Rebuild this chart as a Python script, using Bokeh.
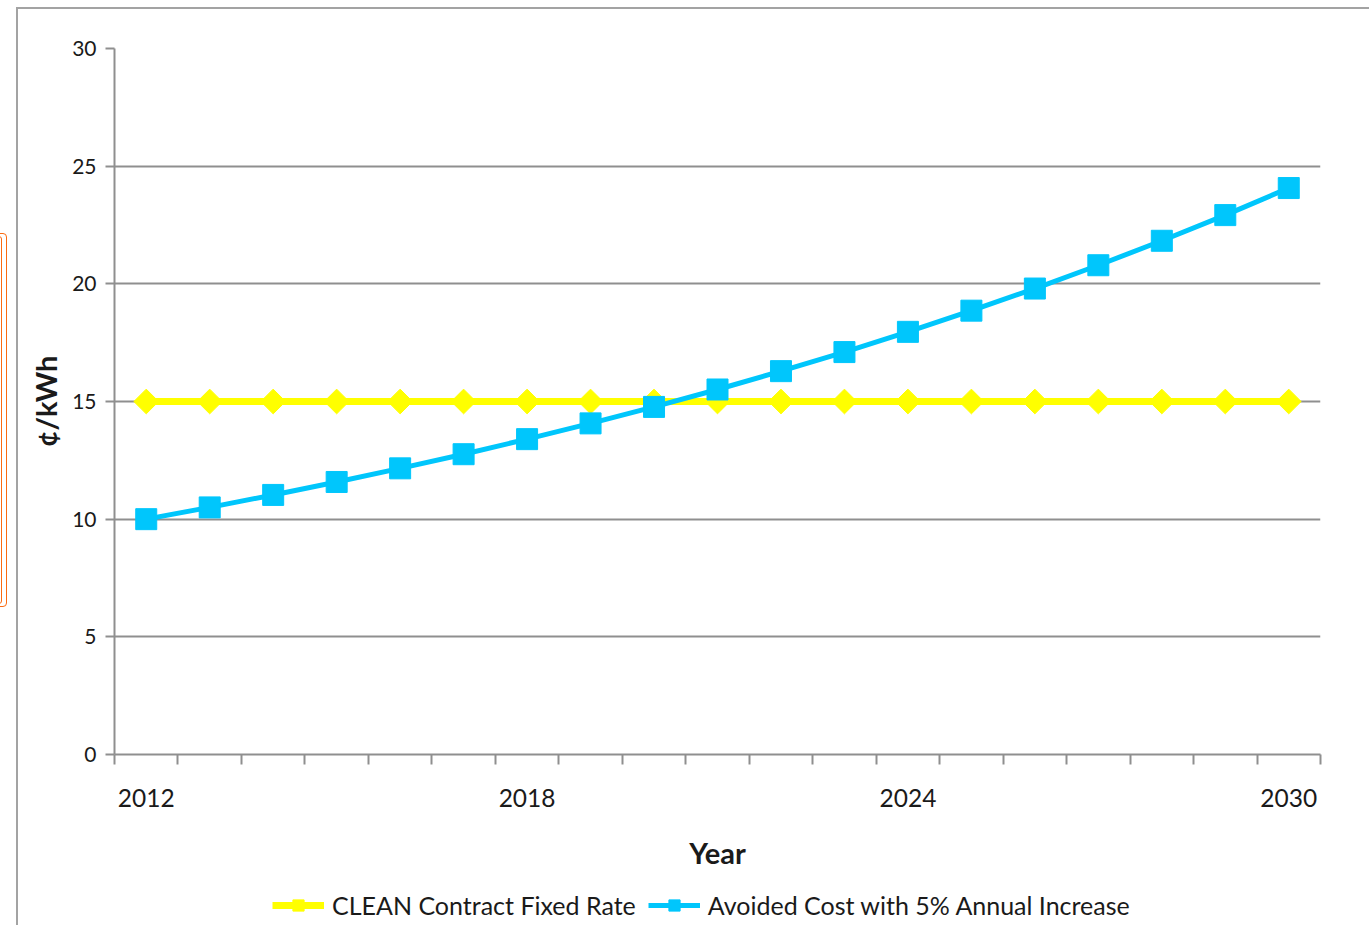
from bokeh.plotting import figure
from bokeh.layouts import row, column
from bokeh.models import Range1d, FixedTicker, Legend, LegendItem, Div
from bokeh.embed import file_html
from bokeh.resources import INLINE

# Contract rate vs. avoided cost, cents per kWh
years = [2012, 2013, 2014, 2015, 2016, 2017, 2018, 2019, 2020, 2021,
         2022, 2023, 2024, 2025, 2026, 2027, 2028, 2029, 2030]
fixed_rate = [15.0, 15.0, 15.0, 15.0, 15.0, 15.0, 15.0, 15.0, 15.0, 15.0,
              15.0, 15.0, 15.0, 15.0, 15.0, 15.0, 15.0, 15.0, 15.0]
avoided_cost = [10.00, 10.50, 11.03, 11.58, 12.16, 12.76, 13.40, 14.07, 14.77, 15.51,
                16.29, 17.10, 17.96, 18.86, 19.80, 20.79, 21.83, 22.92, 24.07]
year_labels = [2012, 2018, 2024, 2030]
y_ticks = [0, 5, 10, 15, 20, 25, 30]
series_names = ["CLEAN Contract Fixed Rate", "Avoided Cost with 5% Annual Increase"]

FONT = "Lato"
GRAY = "#8f8f8f"
EDGE = "2px solid #a3a3a3"
YELLOW = "#ffff00"
BLUE = "#00c6fc"
TEXT = "#1a1a1a"

p = figure(width=1353, height=881, output_backend="svg", toolbar_location=None,
           x_range=Range1d(2011.5, 2030.5), y_range=Range1d(0, 30),
           min_border_left=96, min_border_right=51, min_border_top=39,
           min_border_bottom=136, margin=(7, 0, 0, 8),
           styles={"border-left": EDGE, "border-top": EDGE})
p.outline_line_color = None
p.background_fill_color = "white"
p.border_fill_color = "white"

# horizontal grid only
p.xgrid.grid_line_color = None
p.ygrid.ticker = FixedTicker(ticks=y_ticks)
p.ygrid.grid_line_color = GRAY
p.ygrid.grid_line_width = 2

# x axis: labels centred on years, tick marks between categories
xa = p.xaxis[0]
xa.ticker = FixedTicker(ticks=year_labels,
                        minor_ticks=[y - 0.5 for y in years] + [years[-1] + 0.5])
xa.major_tick_out = 0
xa.major_tick_in = 0
xa.minor_tick_out = 10
xa.minor_tick_in = 0
xa.minor_tick_line_color = GRAY
xa.minor_tick_line_width = 2
xa.axis_line_color = GRAY
xa.axis_line_width = 2
xa.major_label_text_font = FONT
xa.major_label_text_font_size = "24.5px"
xa.major_label_text_color = TEXT
xa.major_label_standoff = 24
xa.axis_label = "Year"
xa.axis_label_text_font = FONT
xa.axis_label_text_font_size = "29px"
xa.axis_label_text_font_style = "bold"
xa.axis_label_text_color = TEXT
xa.axis_label_standoff = 25

ya = p.yaxis[0]
ya.ticker = FixedTicker(ticks=y_ticks)
ya.minor_tick_out = 0
ya.minor_tick_in = 0
ya.major_tick_out = 9
ya.major_tick_in = 0
ya.major_tick_line_color = GRAY
ya.major_tick_line_width = 2
ya.axis_line_color = GRAY
ya.axis_line_width = 2
ya.major_label_text_font = FONT
ya.major_label_text_font_size = "21px"
ya.major_label_text_color = TEXT
ya.major_label_standoff = 9
ya.axis_label = "¢/kWh"
ya.axis_label_text_font = FONT
ya.axis_label_text_font_size = "29px"
ya.axis_label_text_font_style = "bold"
ya.axis_label_text_color = TEXT
ya.axis_label_standoff = 6

line_style = [dict(line_color=YELLOW, line_width=7), dict(line_color=BLUE, line_width=5)]
mark_style = [dict(marker="square", angle=45, angle_units="deg", size=17.5,
                   fill_color=YELLOW, line_color=YELLOW),
              dict(marker="square", size=21, fill_color=BLUE, line_color=BLUE)]
series_values = [fixed_rate, avoided_cost]

# series (fixed rate underneath, avoided cost on top)
for vals, ls, ms in zip(series_values, line_style, mark_style):
    p.line(years, vals, **ls)
    p.scatter(years, vals, **ms)

# legend strip underneath the chart; its renderers carry the same series,
# which fall outside this strip's ranges, so only the legend swatches show
pl = figure(width=1353, height=37, output_backend="svg", toolbar_location=None,
            x_range=Range1d(0, 1), y_range=Range1d(0, 1),
            x_axis_location=None, y_axis_location=None,
            min_border=0, margin=(0, 0, 0, 8), styles={"border-left": EDGE})
pl.outline_line_color = None
pl.grid.visible = False
pl.background_fill_color = "white"
pl.border_fill_color = "white"

items = []
for name, vals, ls, ms in zip(series_names, series_values, line_style, mark_style):
    lr = pl.line(years, vals, **ls)
    mr = pl.scatter(years, vals, **ms)
    items.append(LegendItem(label=name, renderers=[lr, mr]))

legend = Legend(items=items, orientation="horizontal", location=(158, 5))
legend.label_text_font = FONT
legend.label_text_font_size = "25px"
legend.label_text_color = TEXT
legend.glyph_width = 52
legend.glyph_height = 28
legend.label_height = 28
legend.label_standoff = 8
legend.spacing = 12
legend.padding = 0
legend.margin = 0
legend.border_line_color = None
legend.background_fill_alpha = 0
pl.add_layout(legend, "center")

# orange selection frame at the left edge of the page
frame_html = (
    '<div style="margin-top:233px;margin-left:-40px;width:47px;height:374px;'
    'border:1.5px solid #fb6a10;border-radius:4px;box-sizing:border-box;'
    'padding:2px 4px 2px 0;">'
    '<div style="width:100%;height:100%;border:1.5px solid #fb6a10;'
    'border-radius:3px;box-sizing:border-box;"></div></div>'
)
side = Div(text=frame_html, width=8, height=927, margin=0)

layout = row(side, column(p, pl, spacing=0), spacing=0)

open("out.html", "w").write(file_html(layout, INLINE))
